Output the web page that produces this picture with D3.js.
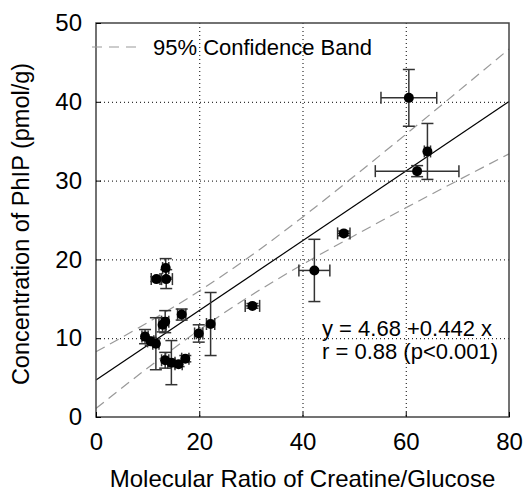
<!DOCTYPE html>
<html>
<head>
<meta charset="utf-8">
<script src="https://cdn.jsdelivr.net/npm/d3@7"></script>
<style>
  body { margin: 0; background: #fff; }
  svg { font-family: "Liberation Sans", Arial, sans-serif; }
</style>
</head>
<body>
<div id="container"></div>
<script>
// Data
const ratio = [60.6, 64.2, 62.2, 48.0, 42.3, 30.3, 22.2, 19.9, 16.6, 13.5, 11.7,
  13.6, 13.4, 12.9, 9.5, 10.6, 11.6, 13.4, 14.6, 16.0, 17.3];
const phip = [40.5, 33.7, 31.2, 23.3, 18.6, 14.1, 11.8, 10.6, 13.0, 18.9, 17.5,
  17.5, 12.1, 11.7, 10.2, 9.6, 9.3, 7.2, 6.9, 6.7, 7.4];
const ratioErr = [5.4, 0.6, 8.1, 1.2, 3.0, 1.4, 0.8, 0.8, 0.8, 0.6, 1.0,
  1.2, 0.7, 0.7, 0.6, 0.6, 0.6, 0.7, 0.7, 0.7, 0.7];
const phipErr = [3.6, 3.55, 0.7, 0.3, 3.95, 0.3, 4.0, 1.1, 0.7, 1.2, 0.3,
  1.2, 1.4, 0.9, 0.9, 0.5, 3.3, 1.0, 2.8, 0.3, 0.4];

// fit line and 95% band
const intercept = 4.68;
const slope = 0.442;
const bandX = [0, 10, 20, 30, 40, 50, 60, 70, 80];
const bandUpper = [8.28, 11.98, 15.99, 20.46, 25.36, 30.55, 35.86, 41.25, 46.69];
const bandLower = [1.08, 6.22, 11.05, 15.42, 19.36, 23.01, 26.54, 29.99, 33.39];

const xTicks = [0, 20, 40, 60, 80];
const yTicks = [0, 10, 20, 30, 40, 50];

const width = 526;
const height = 494;
const margin = { left: 96, right: 17, top: 23, bottom: 77 };

const svg = d3
  .select("#container")
  .append("svg")
  .attr("width", width)
  .attr("height", height);

const x = d3.scaleLinear().domain([0, 80]).range([margin.left, width - margin.right]);
const y = d3.scaleLinear().domain([0, 50]).range([height - margin.bottom, margin.top]);

// Grid (dotted)
svg
  .append("g")
  .selectAll("line")
  .data(xTicks.slice(1, -1))
  .enter()
  .append("line")
  .attr("x1", (d) => x(d) + 0.5)
  .attr("x2", (d) => x(d) + 0.5)
  .attr("y1", y(50))
  .attr("y2", y(0))
  .attr("stroke", "#000")
  .attr("stroke-dasharray", "1,3");

svg
  .append("g")
  .selectAll("line")
  .data(yTicks.slice(1, -1))
  .enter()
  .append("line")
  .attr("x1", x(0))
  .attr("x2", x(80))
  .attr("y1", (d) => y(d) + 0.5)
  .attr("y2", (d) => y(d) + 0.5)
  .attr("stroke", "#000")
  .attr("stroke-dasharray", "1,3");

// Confidence band
const bandLine = (vals) =>
  d3
    .line()
    .x((d, i) => x(bandX[i]))
    .y((d) => y(d))
    .curve(d3.curveMonotoneX)(vals);

[bandUpper, bandLower].forEach((vals) => {
  svg
    .append("path")
    .attr("d", bandLine(vals))
    .attr("fill", "none")
    .attr("stroke", "#999")
    .attr("stroke-width", 1.2)
    .attr("stroke-dasharray", "10,6");
});

// Regression line
svg
  .append("line")
  .attr("x1", x(0))
  .attr("y1", y(intercept))
  .attr("x2", x(80))
  .attr("y2", y(intercept + slope * 80))
  .attr("stroke", "#000")
  .attr("stroke-width", 1.2);

// Error bars
const cap = 6;
const bars = svg.append("g").attr("stroke", "#333").attr("stroke-width", 1.5);
ratio.forEach((rx, i) => {
  const cx = x(rx);
  const cy = y(phip[i]);
  const y0 = y(phip[i] - phipErr[i]);
  const y1 = y(phip[i] + phipErr[i]);
  const x0 = x(rx - ratioErr[i]);
  const x1 = x(rx + ratioErr[i]);
  bars.append("line").attr("x1", cx).attr("x2", cx).attr("y1", y0).attr("y2", y1);
  bars.append("line").attr("x1", cx - cap).attr("x2", cx + cap).attr("y1", y0).attr("y2", y0);
  bars.append("line").attr("x1", cx - cap).attr("x2", cx + cap).attr("y1", y1).attr("y2", y1);
  bars.append("line").attr("x1", x0).attr("x2", x1).attr("y1", cy).attr("y2", cy);
  bars.append("line").attr("x1", x0).attr("x2", x0).attr("y1", cy - cap).attr("y2", cy + cap);
  bars.append("line").attr("x1", x1).attr("x2", x1).attr("y1", cy - cap).attr("y2", cy + cap);
});

// Points
svg
  .append("g")
  .selectAll("circle")
  .data(ratio)
  .enter()
  .append("circle")
  .attr("cx", (d) => x(d))
  .attr("cy", (d, i) => y(phip[i]))
  .attr("r", 5)
  .attr("fill", "#000");

// Frame
svg
  .append("rect")
  .attr("x", x(0))
  .attr("y", y(50))
  .attr("width", x(80) - x(0))
  .attr("height", y(0) - y(50))
  .attr("fill", "none")
  .attr("stroke", "#444")
  .attr("stroke-width", 1.5);

// Axes
const xAxis = svg
  .append("g")
  .attr("transform", `translate(0,${y(0)})`)
  .call(d3.axisBottom(x).tickValues(xTicks).tickSize(-5).tickPadding(16));
const yAxis = svg
  .append("g")
  .attr("transform", `translate(${x(0)},0)`)
  .call(d3.axisLeft(y).tickValues(yTicks).tickSize(-5).tickPadding(14));

[xAxis, yAxis].forEach((g) => {
  g.select(".domain").remove();
  g.selectAll(".tick line").attr("stroke", "#000");
  g.selectAll("text")
    .attr("font-size", 24)
    .attr("font-family", "Liberation Sans, Arial, sans-serif")
    .attr("fill", "#000");
});

// Axis titles
svg
  .append("text")
  .attr("x", (x(0) + x(80)) / 2)
  .attr("y", 487)
  .attr("text-anchor", "middle")
  .attr("font-size", 24)
  .text("Molecular Ratio of Creatine/Glucose");

svg
  .append("text")
  .attr("transform", `translate(29,${(y(0) + y(50)) / 2 + 4}) rotate(-90)`)
  .attr("text-anchor", "middle")
  .attr("font-size", 23.5)
  .text("Concentration of PhIP (pmol/g)");

// Legend
svg
  .append("line")
  .attr("x1", 92)
  .attr("x2", 143)
  .attr("y1", 47)
  .attr("y2", 47)
  .attr("stroke", "#999")
  .attr("stroke-width", 1.2)
  .attr("stroke-dasharray", "10,7");

svg
  .append("text")
  .attr("x", 153)
  .attr("y", 55)
  .attr("font-size", 22)
  .text("95% Confidence Band");

// Equation
svg
  .append("text")
  .attr("x", 322)
  .attr("y", 336)
  .attr("font-size", 22)
  .text("y = " + intercept + " +" + slope + " x");

svg
  .append("text")
  .attr("x", 322)
  .attr("y", 359)
  .attr("font-size", 22)
  .text("r = 0.88 (p<0.001)");
</script>
</body>
</html>
